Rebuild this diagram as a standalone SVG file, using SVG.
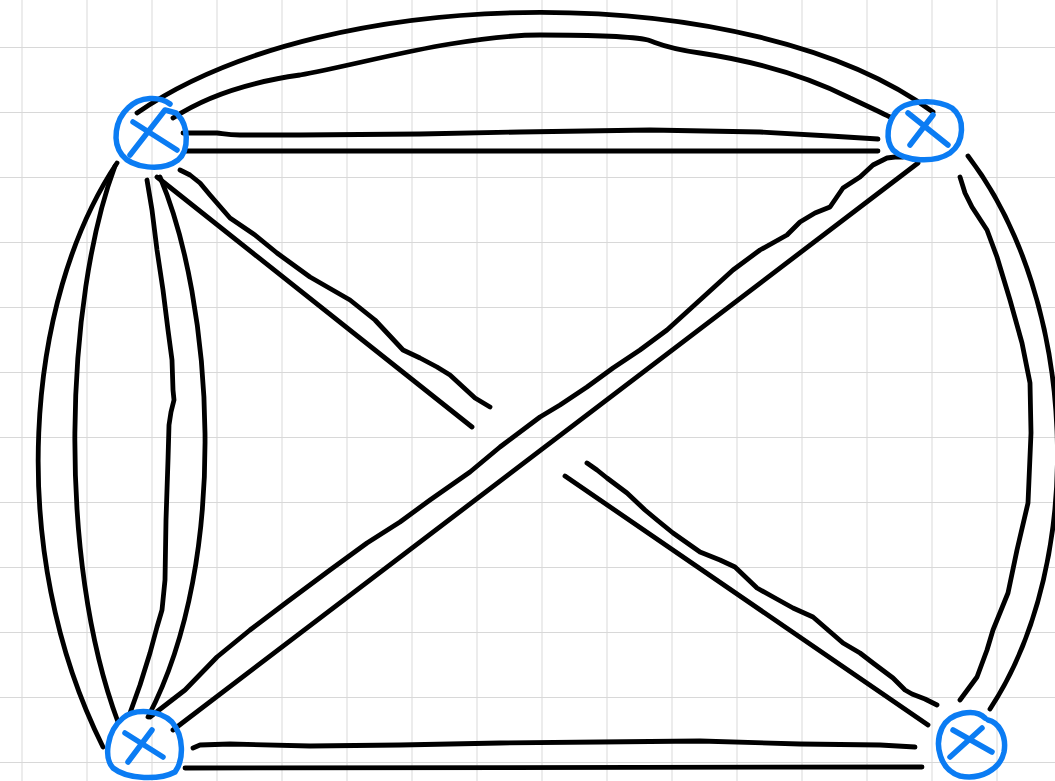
<svg xmlns="http://www.w3.org/2000/svg" width="1055" height="781" viewBox="0 0 1055 781">
<style>
.edge{fill:none;stroke:#000;stroke-width:4.8;stroke-linecap:round;stroke-linejoin:round}
.node{fill:none;stroke:#0b7cf3;stroke-width:5.5;stroke-linecap:round;stroke-linejoin:round}
</style>
<defs>
<pattern id="grid" x="21.5" y="47" width="65" height="65" patternUnits="userSpaceOnUse">
<path d="M0,0 H65 M0,0 V65" fill="none" stroke="#d8d8d8" stroke-width="2"/>
</pattern>
</defs>
<rect width="1055" height="781" fill="#fff"/>
<rect width="1055" height="781" fill="url(#grid)"/>
<g id="connectors">
<path class="edge" d="M137,113 C330,-21 753,-21 933,112"/>
<path class="edge" d="M173,118 C205,97 250,82 300,75 C340,68 400,52 450,44 C480,39 510,35 540,35 C580,35 630,36 648,40 C660,44 665,48 700,53 C760,62 810,78 850,98 C865,105 880,112 890,117"/>
<path class="edge" d="M183,133 L217,133 C225,134 228,135 240,135 L300,135 L420,134 L520,132 L650,130 L760,132 L830,136 L878,139"/>
<path class="edge" d="M186,151 L878,151"/>
<path class="edge" d="M117,163 C25,300 5,551 103,747"/>
<path class="edge" d="M115,166 C65,300 57,559 118,722"/>
<path class="edge" d="M147,180 L152,210 L157,250 L163,290 L168,330 L172,360 L173,390 L174,400 L171,412 L169,425 L168,460 L166,520 L165,580 L162,610 L157,627 L150,653 L140,685 L130,713"/>
<path class="edge" d="M160,177 C212,300 232,557 148,717"/>
<path class="edge" d="M157,177 L472,427"/>
<path class="edge" d="M180,170 L190,175 L200,183 L210,195 L230,218 L255,235 L277,253 L310,277 L350,300 L375,320 L403,350 L420,358 L437,367 L450,375 L463,387 L475,398 L490,407"/>
<path class="edge" d="M565,476 L928,725"/>
<path class="edge" d="M587,463 L597,470 L607,478 L627,493 L645,510 L657,520 L673,533 L700,552 L720,560 L735,567 L757,588 L775,598 L793,608 L813,617 L828,630 L843,643 L860,653 L873,663 L893,678 L905,690 L912,694 L925,699 L937,705"/>
<path class="edge" d="M918,163 L173,730"/>
<path class="edge" d="M903,157 L895,157 L887,158 L873,165 L860,177 L843,188 L830,207 L815,213 L800,222 L787,235 L760,250 L733,270 L700,300 L667,330 L640,350 L613,368 L587,387 L560,405 L540,417 L500,447 L470,472 L430,500 L400,522 L367,543 L330,570 L287,602 L250,630 L217,657 L185,690 L150,717"/>
<path class="edge" d="M968,156 C1078,300 1088,560 990,709"/>
<path class="edge" d="M960,177 L965,193 L972,207 L987,230 L997,257 L1010,300 L1022,343 L1030,383 L1031,433 L1028,503 L1017,550 L1008,593 L993,630 L987,650 L977,677 L960,700"/>
<path class="edge" d="M193,748 L200,745 L230,744 L310,746 L400,745 L500,743 L600,742 L700,741 L800,744 L880,745 L915,747"/>
<path class="edge" d="M185,768 L922,767"/>
</g>
<g id="node-a">
<path class="node" d="M170,104 C160,96 140,96 128,108 C115,120 112,142 122,155 C132,168 162,172 178,160 C190,150 188,125 178,115"/>
<path class="node" d="M133,122 L177,150"/>
<path class="node" d="M130,155 L165,110 L176,113"/>
</g>
<g id="node-b">
<path class="node" d="M895,113 C905,100 935,98 952,108 C965,118 965,142 950,153 C935,163 905,162 893,150 C885,140 887,122 897,111"/>
<path class="node" d="M908,113 L948,145"/>
<path class="node" d="M910,145 L933,115"/>
</g>
<g id="node-c">
<path class="node" d="M123,718 C135,708 160,710 172,722 C184,736 184,760 175,772 C160,780 128,780 113,768 C104,758 106,732 123,718"/>
<path class="node" d="M125,733 L163,757"/>
<path class="node" d="M128,762 L152,730"/>
</g>
<g id="node-d">
<path class="node" d="M985,718 C975,708 950,712 942,728 C934,745 940,770 960,776 C980,780 1000,770 1004,752 C1007,735 998,722 988,720"/>
<path class="node" d="M953,730 L992,752"/>
<path class="node" d="M950,757 L982,728"/>
</g>
</svg>
